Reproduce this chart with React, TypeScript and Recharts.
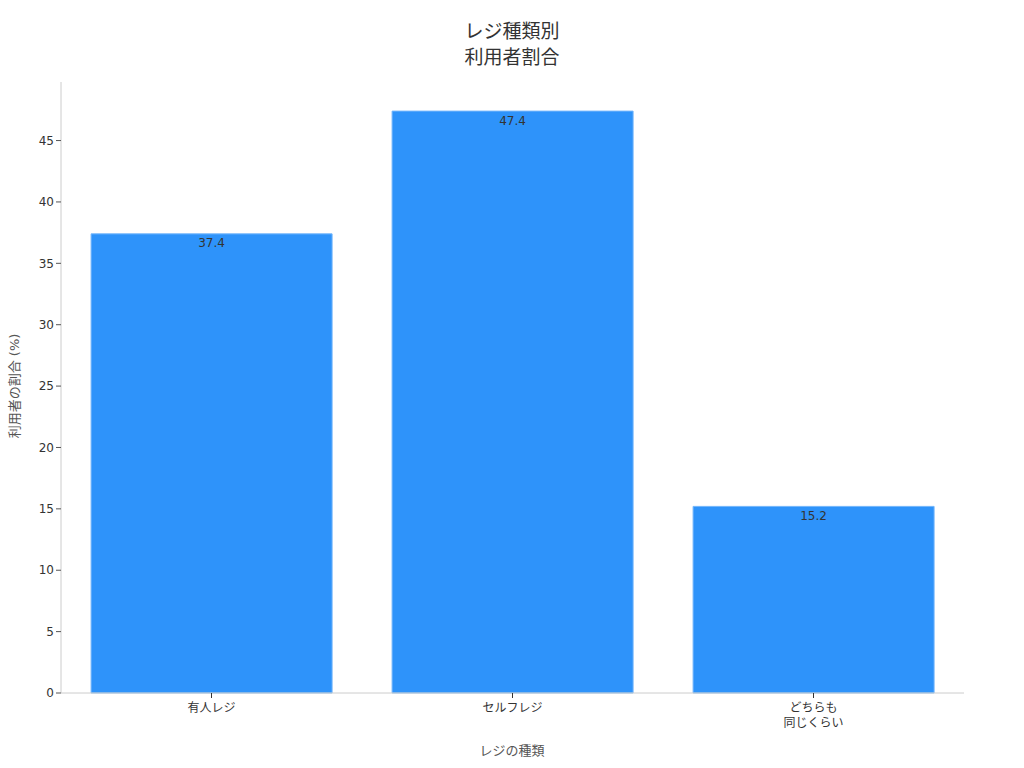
import React from "react"
import { Bar, BarChart, LabelList, XAxis, YAxis } from "recharts"

const categories = ["有人レジ", "セルフレジ", "どちらも\n同じくらい"]
const shares = [37.4, 47.4, 15.2]
const yTicks = [0, 5, 10, 15, 20, 25, 30, 35, 40, 45]

const data = categories.map((name, i) => ({ name, value: shares[i] }))

const FONT = "'DejaVu Sans', 'Noto Sans CJK JP', sans-serif"

function XTick(props: any) {
  const { x, y, payload } = props
  const lines = String(payload.value).split("\n")
  return (
    <g>
      <line x1={x} y1={y - 8} x2={x} y2={y - 3} stroke="#333" strokeWidth={1} />
      <text x={x} y={y + 11} textAnchor="middle" fontSize={12} fill="#333" fontFamily={FONT}>
        {lines.map((line, i) => (
          <tspan key={i} x={x} dy={i === 0 ? 0 : 15}>
            {line}
          </tspan>
        ))}
      </text>
    </g>
  )
}

export default function App() {
  return (
    <div style={{ position: "absolute", left: 0, top: 0, width: 1024, height: 768, background: "#fff", fontFamily: FONT }}>
      <div style={{ position: "absolute", top: 18, width: 1024, textAlign: "center", fontSize: 19, lineHeight: "26px", color: "#333" }}>
        レジ種類別
        <br />
        利用者割合
      </div>
      <BarChart
        width={1024}
        height={768}
        data={data}
        margin={{ top: 82, right: 60, bottom: 0, left: 0 }}
        barCategoryGap="10%"
      >
        <XAxis
          dataKey="name"
          height={75}
          interval={0}
          axisLine={{ stroke: "#cccccc" }}
          tickLine={false}
          tick={<XTick />}
        />
        <YAxis
          width={61}
          domain={[0, 49.77]}
          ticks={yTicks}
          axisLine={{ stroke: "#cccccc" }}
          tickLine={{ stroke: "#555" }}
          tickSize={5}
          tick={{ fontSize: 12, fill: "#333", fontFamily: FONT }}
        />
        <Bar dataKey="value" fill="#2E93FA" stroke="#72b6fb" strokeWidth={1} isAnimationActive={false}>
          <LabelList dataKey="value" position="insideTop" offset={5} fontSize={12} fill="#333" fontFamily={FONT} />
        </Bar>
      </BarChart>
      <div
        style={{
          position: "absolute",
          left: 13,
          top: 386,
          transform: "translate(-50%, -50%) rotate(-90deg)",
          whiteSpace: "nowrap",
          fontSize: 13,
          color: "#555",
        }}
      >
        利用者の割合 (%)
      </div>
      <div style={{ position: "absolute", top: 740, left: 0, width: 1024, textAlign: "center", fontSize: 13, color: "#555" }}>
        レジの種類
      </div>
    </div>
  )
}
